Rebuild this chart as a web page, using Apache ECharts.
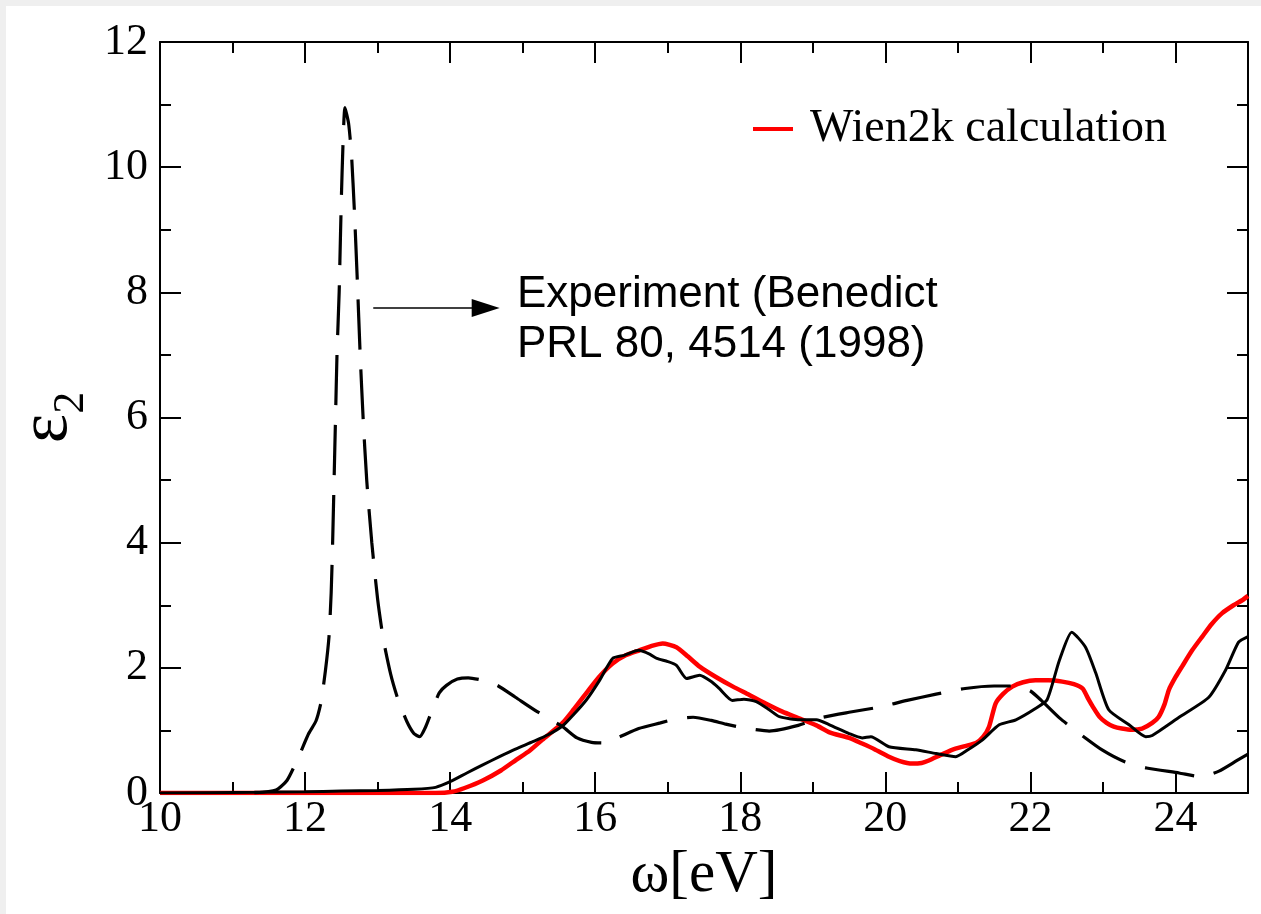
<!DOCTYPE html>
<html><head><meta charset="utf-8">
<script src="https://cdn.jsdelivr.net/npm/echarts@6/dist/echarts.min.js"></script>
<style>html,body{margin:0;padding:0;background:#fff}#c{width:1261px;height:914px}</style>
</head><body><div id="c"></div>
<script>
// Experiment (Benedict, dashed)
const expX = [11.3, 11.6, 11.75, 11.9, 12.05, 12.15, 12.22, 12.28, 12.33, 12.36, 12.38, 12.4, 12.42, 12.44, 12.47, 12.49, 12.51, 12.55, 12.6, 12.64, 12.68, 12.72, 12.76, 12.8, 12.85, 12.92, 13.0, 13.08, 13.18, 13.28, 13.4, 13.5, 13.58, 13.66, 13.76, 13.85, 13.95, 14.1, 14.25, 14.45, 14.65, 14.9, 15.2, 15.55, 15.75, 15.95, 16.1, 16.3, 16.6, 16.9, 17.1, 17.35, 17.6, 17.8, 18.05, 18.4, 18.8, 19.1, 19.5, 19.95, 20.3, 20.7, 21.1, 21.5, 21.8, 22.0, 22.15, 22.4, 22.7, 23.0, 23.3, 23.6, 24.05, 24.35, 24.6, 24.85, 25.0];
const expY = [0, 0.05, 0.2, 0.55, 0.95, 1.15, 1.45, 1.95, 2.5, 3.2, 4.0, 5.0, 6.0, 7.0, 8.0, 9.0, 9.9, 10.95, 10.7, 10.2, 9.3, 8.2, 7.0, 6.0, 5.0, 4.0, 3.1, 2.45, 1.9, 1.5, 1.15, 0.95, 0.9, 1.05, 1.35, 1.6, 1.72, 1.82, 1.84, 1.8, 1.72, 1.53, 1.3, 1.06, 0.88, 0.81, 0.8, 0.88, 1.03, 1.12, 1.18, 1.21, 1.16, 1.1, 1.04, 0.99, 1.08, 1.2, 1.29, 1.38, 1.48, 1.58, 1.67, 1.71, 1.71, 1.63, 1.48, 1.2, 0.93, 0.68, 0.5, 0.4, 0.32, 0.26, 0.35, 0.52, 0.62];
// Second curve (black solid, no legend entry)
const solX = [10, 11.3, 12.0, 12.5, 13.0, 13.5, 13.8, 14.0, 14.23, 14.45, 14.68, 14.9, 15.14, 15.35, 15.55, 15.7, 15.88, 16.06, 16.24, 16.4, 16.6, 16.75, 16.85, 17.0, 17.12, 17.26, 17.44, 17.6, 17.71, 17.89, 18.05, 18.22, 18.4, 18.54, 18.82, 19.05, 19.23, 19.5, 19.68, 19.8, 20.05, 20.42, 20.7, 20.97, 21.15, 21.34, 21.57, 21.8, 22.07, 22.23, 22.4, 22.57, 22.76, 22.9, 23.08, 23.36, 23.59, 23.68, 24.05, 24.46, 24.69, 24.87, 25.0];
const solY = [0, 0.01, 0.02, 0.03, 0.04, 0.06, 0.09, 0.18, 0.32, 0.45, 0.58, 0.7, 0.82, 0.93, 1.07, 1.25, 1.49, 1.8, 2.15, 2.2, 2.28, 2.22, 2.15, 2.1, 2.04, 1.83, 1.88, 1.78, 1.67, 1.48, 1.5, 1.46, 1.33, 1.22, 1.17, 1.17, 1.09, 0.95, 0.88, 0.9, 0.74, 0.69, 0.63, 0.58, 0.7, 0.85, 1.09, 1.17, 1.35, 1.49, 2.12, 2.57, 2.33, 1.92, 1.33, 1.09, 0.9, 0.92, 1.21, 1.53, 1.96, 2.41, 2.5];
// Wien2k calculation (red)
const redX = [10, 13.8, 14.03, 14.2, 14.45, 14.7, 14.91, 15.1, 15.27, 15.55, 15.7, 15.88, 16.05, 16.24, 16.42, 16.61, 16.78, 16.93, 17.12, 17.28, 17.44, 17.67, 17.9, 18.12, 18.35, 18.58, 18.82, 19.05, 19.23, 19.5, 19.68, 19.85, 20.05, 20.2, 20.37, 20.5, 20.6, 20.75, 20.92, 21.1, 21.25, 21.35, 21.43, 21.52, 21.62, 21.75, 21.9, 22.07, 22.25, 22.44, 22.6, 22.72, 22.8, 22.86, 22.95, 23.05, 23.15, 23.26, 23.4, 23.54, 23.68, 23.77, 23.85, 23.91, 24.0, 24.09, 24.23, 24.37, 24.5, 24.64, 24.8, 24.92, 25.0];
const redY = [0, 0, 0.02, 0.08, 0.2, 0.36, 0.53, 0.68, 0.85, 1.12, 1.33, 1.6, 1.85, 2.07, 2.2, 2.28, 2.35, 2.39, 2.33, 2.18, 2.02, 1.85, 1.7, 1.57, 1.43, 1.3, 1.19, 1.08, 0.97, 0.88, 0.79, 0.7, 0.58, 0.51, 0.47, 0.48, 0.52, 0.6, 0.69, 0.75, 0.8, 0.9, 1.06, 1.43, 1.58, 1.7, 1.77, 1.8, 1.8, 1.78, 1.74, 1.67, 1.5, 1.38, 1.22, 1.12, 1.06, 1.03, 1.01, 1.03, 1.12, 1.22, 1.42, 1.65, 1.85, 2.02, 2.28, 2.5, 2.7, 2.87, 3.0, 3.08, 3.15];
// Arrow of the annotation, in data units
const arrowFrom = [12.94, 7.75];
const arrowTo = [14.49, 7.75];
const legendName = 'Wien2k calculation';
const annotation = 'Experiment (Benedict\nPRL 80, 4514 (1998)';

const zip = (xs, ys) => xs.map((x, i) => [x, ys[i]]);
const serif = '"Liberation Serif", "DejaVu Serif", serif';
const blk = '#000';

function xAx(pos, major) {
  return {
    type: 'value', position: pos, min: 10, max: 25, interval: major ? 2 : 1,
    axisLine: { show: major, onZero: false, lineStyle: { color: blk, width: 2 } },
    axisTick: { show: true, inside: true, length: major ? 21 : 11, lineStyle: { color: blk, width: 2 } },
    axisLabel: (pos === 'bottom' && major) ? { show: true, fontFamily: serif, fontSize: 44, color: blk, margin: 4, showMaxLabel: false } : { show: false },
    splitLine: { show: false }, axisPointer: { show: false }
  };
}
function yAx(pos, major) {
  return {
    type: 'value', position: pos, min: 0, max: 12, interval: major ? 2 : 1,
    axisLine: { show: major, onZero: false, lineStyle: { color: blk, width: 2 } },
    axisTick: { show: true, inside: true, length: major ? 21 : 11, lineStyle: { color: blk, width: 2 } },
    axisLabel: (pos === 'left' && major) ? { show: true, fontFamily: serif, fontSize: 44, color: blk, margin: 12 } : { show: false },
    splitLine: { show: false }, axisPointer: { show: false }
  };
}

const xAxes = [xAx('bottom', true), xAx('bottom', false), xAx('top', true), xAx('top', false)];
xAxes[0].name = 'ω[eV]';
xAxes[0].nameLocation = 'middle';
xAxes[0].nameGap = 46;
xAxes[0].nameTextStyle = { fontFamily: serif, fontSize: 59, color: blk };

const yAxes = [yAx('left', true), yAx('left', false), yAx('right', true), yAx('right', false)];
yAxes[0].name = '{e|ε}{s|2}';
yAxes[0].nameLocation = 'middle';
yAxes[0].nameRotate = 90;
yAxes[0].nameGap = 60;
yAxes[0].nameTextStyle = {
  color: blk,
  rich: {
    e: { fontFamily: serif, fontSize: 70, lineHeight: 70, padding: [0, 0, 10, 0], verticalAlign: 'bottom', color: blk },
    s: { fontFamily: serif, fontSize: 44, lineHeight: 44, verticalAlign: 'bottom', color: blk }
  }
};

const chart = echarts.init(document.getElementById('c'), null, { renderer: 'canvas' });
chart.setOption({
  animation: false,
  backgroundColor: '#fff',
  grid: { left: 160, right: 13, top: 42, bottom: 121, containLabel: false, outerBoundsMode: 'none' },
  xAxis: xAxes,
  yAxis: yAxes,
  legend: {
    data: [legendName], left: 748, top: 101, icon: 'rect', itemWidth: 40, itemHeight: 4,
    textStyle: { fontFamily: serif, fontSize: 46, color: blk, padding: [0, 0, 0, 12] },
    selectedMode: false
  },
  graphic: [
    { type: 'rect', left: 0, top: 0, z: -10, shape: { width: 6, height: 914 }, style: { fill: '#efefef' } },
    { type: 'rect', left: 0, top: 0, z: -10, shape: { width: 1261, height: 6 }, style: { fill: '#efefef' } },
    { type: 'text', left: 517, top: 270, style: { text: annotation, fontFamily: '"Liberation Sans", Arial, sans-serif', fontSize: 44, lineHeight: 50, fill: blk } }
  ],
  series: [
    {
      name: legendName, type: 'line', data: zip(redX, redY), showSymbol: false, smooth: 0.2,
      lineStyle: { color: '#ff0000', width: 4.5 }, itemStyle: { color: '#ff0000' }, z: 2
    },
    {
      name: 'Experiment', type: 'line', data: zip(expX, expY), showSymbol: false, smooth: 0.2,
      lineStyle: { color: blk, width: 3.2, type: [50, 20] }, itemStyle: { color: blk }, z: 3,
      markLine: {
        silent: true, symbol: ['none', 'triangle'], symbolSize: [18, 28],
        lineStyle: { color: blk, width: 1.5, type: 'solid' }, label: { show: false },
        data: [[{ coord: arrowFrom }, { coord: arrowTo }]]
      }
    },
    {
      name: 'other', type: 'line', data: zip(solX, solY), showSymbol: false, smooth: 0.2,
      lineStyle: { color: blk, width: 3 }, itemStyle: { color: blk }, z: 4
    }
  ]
});
</script></body></html>
